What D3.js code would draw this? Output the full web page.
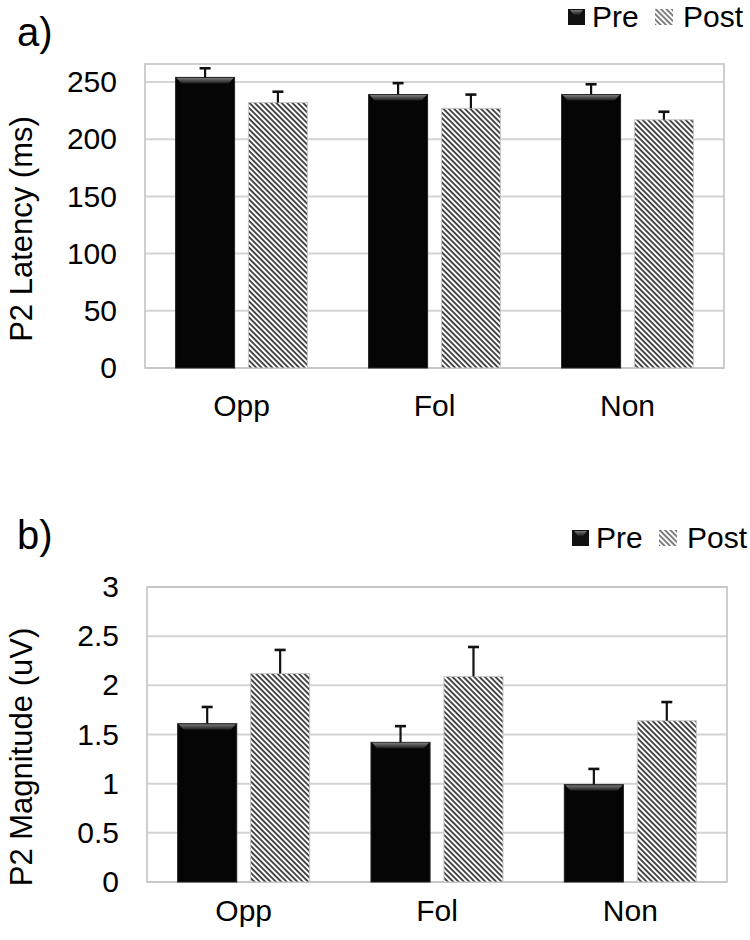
<!DOCTYPE html>
<html>
<head>
<meta charset="utf-8">
<script src="https://cdn.jsdelivr.net/npm/d3@7"></script>
<style>
  html, body { margin: 0; padding: 0; background: #fff; }
  svg { display: block; font-family: "Liberation Sans", Arial, Helvetica, sans-serif; }
</style>
</head>
<body>
<svg id="chart" width="750" height="940"></svg>
<script>
// ---- Data ----
const categories = ["Opp", "Fol", "Non"];
const series = ["Pre", "Post"];

const latencyPre = [254, 239, 239];
const latencyPost = [232, 227, 217];
const latencyPreErr = [8, 10, 9];
const latencyPostErr = [9.5, 12, 7];
const latencyTicks = [0, 50, 100, 150, 200, 250];

const magnitudePre = [1.61, 1.42, 0.99];
const magnitudePost = [2.12, 2.09, 1.64];
const magnitudePreErr = [0.17, 0.165, 0.16];
const magnitudePostErr = [0.24, 0.30, 0.19];
const magnitudeTicks = [0, 0.5, 1, 1.5, 2, 2.5, 3];

const svg = d3.select("#chart");
const defs = svg.append("defs");

// hatch pattern for Post
const pat = defs.append("pattern")
  .attr("id", "hatch")
  .attr("patternUnits", "userSpaceOnUse")
  .attr("width", 3.8).attr("height", 3.8)
  .attr("patternTransform", "rotate(-45)");
pat.append("rect").attr("width", 3.8).attr("height", 3.8).attr("fill", "#fff");
pat.append("line").attr("x1", 1).attr("y1", 0).attr("x2", 1).attr("y2", 3.8)
  .attr("stroke", "#222").attr("stroke-width", 1.6);

// bevel gradient for Pre top
const grad = defs.append("linearGradient").attr("id", "bevel")
  .attr("x1", 0).attr("y1", 0).attr("x2", 0).attr("y2", 1);
grad.append("stop").attr("offset", "0%").attr("stop-color", "#7a7a7a");
grad.append("stop").attr("offset", "100%").attr("stop-color", "#1a1a1a");

const fillFor = s => s === "Pre" ? "#050505" : "url(#hatch)";

function panel(opts) {
  const { left, right, yTop, yBottom, yMax, ticks, pre, post, preErr, postErr,
          title, titleY, letter, letterY, legendY, legendX, tickFmt, catY } = opts;

  const g = svg.append("g");
  const y = d3.scaleLinear().domain([0, yMax]).range([yBottom, yTop]);
  const x0 = d3.scaleBand().domain(categories).range([left, right]).padding(0);
  const x1 = d3.scaleBand().domain(series).range([0, x0.bandwidth()])
    .paddingInner(0.19).paddingOuter(0.42);

  // gridlines
  g.append("g").selectAll("line").data(ticks).join("line")
    .attr("x1", left).attr("x2", right)
    .attr("y1", d => y(d)).attr("y2", d => y(d))
    .attr("stroke", "#d4d4d4").attr("stroke-width", 2);

  // frame
  g.append("rect")
    .attr("x", left).attr("y", yTop)
    .attr("width", right - left).attr("height", yBottom - yTop)
    .attr("fill", "none").attr("stroke", "#c4c4c4").attr("stroke-width", 1.6);

  // y axis labels
  const yAxis = d3.axisLeft(y).tickValues(ticks).tickSize(0).tickPadding(28)
    .tickFormat(tickFmt);
  const ax = g.append("g").attr("transform", `translate(${left},0)`).call(yAxis);
  ax.select(".domain").remove();
  ax.selectAll("text").attr("font-size", 30).attr("fill", "#000")
    .attr("font-family", "'Liberation Sans', Arial, sans-serif");

  // x axis labels
  const xAxis = d3.axisBottom(x0).tickSize(0).tickPadding(0);
  const bx = g.append("g").attr("transform", `translate(0,${catY})`).call(xAxis);
  bx.select(".domain").remove();
  bx.selectAll("text").attr("font-size", 30).attr("fill", "#000").attr("dy", 0)
    .attr("font-family", "'Liberation Sans', Arial, sans-serif");

  const data = [];
  categories.forEach((c, i) => {
    data.push({ cat: c, s: "Pre", v: pre[i], e: preErr[i] });
    data.push({ cat: c, s: "Post", v: post[i], e: postErr[i] });
  });

  const bars = g.append("g").selectAll("g").data(data).join("g");
  bars.append("rect")
    .attr("x", d => x0(d.cat) + x1(d.s))
    .attr("y", d => y(d.v))
    .attr("width", x1.bandwidth())
    .attr("height", d => y(0) - y(d.v))
    .attr("fill", d => fillFor(d.s))
    .attr("stroke", d => d.s === "Pre" ? "#222" : "#c8c8c8")
    .attr("stroke-width", 1);

  // bevel on Pre bars
  bars.filter(d => d.s === "Pre").append("polygon")
    .attr("points", d => {
      const xa = x0(d.cat) + x1(d.s), w = x1.bandwidth(), yt = y(d.v);
      return [[xa + 1, yt + 0.5], [xa + w - 1, yt + 0.5], [xa + w - 6, yt + 6], [xa + 6, yt + 6]]
        .map(p => p.join(",")).join(" ");
    })
    .attr("fill", "url(#bevel)");

  // error bars (upper only)
  bars.append("line")
    .attr("x1", d => x0(d.cat) + x1(d.s) + x1.bandwidth() / 2)
    .attr("x2", d => x0(d.cat) + x1(d.s) + x1.bandwidth() / 2)
    .attr("y1", d => y(d.v))
    .attr("y2", d => y(d.v + d.e))
    .attr("stroke", "#111").attr("stroke-width", 2.2);
  bars.append("line")
    .attr("x1", d => x0(d.cat) + x1(d.s) + x1.bandwidth() / 2 - 5.5)
    .attr("x2", d => x0(d.cat) + x1(d.s) + x1.bandwidth() / 2 + 5.5)
    .attr("y1", d => y(d.v + d.e))
    .attr("y2", d => y(d.v + d.e))
    .attr("stroke", "#111").attr("stroke-width", 2.6);

  // y title
  g.append("text")
    .attr("transform", `translate(32,${titleY}) rotate(-90)`)
    .attr("text-anchor", "middle")
    .attr("font-size", 31).attr("fill", "#000")
    .text(title);

  // panel letter
  g.append("text").attr("x", 17).attr("y", letterY)
    .attr("font-size", 40).attr("fill", "#000").text(letter);

  // legend
  const lg = g.append("g").attr("transform", `translate(${legendX},${legendY})`);
  lg.append("rect").attr("x", 0).attr("y", -16).attr("width", 17).attr("height", 16)
    .attr("fill", "#111");
  lg.append("polygon").attr("points", "2,-15 15,-15 11,-10 6,-10").attr("fill", "url(#bevel)");
  lg.append("text").attr("x", 24).attr("y", 2).attr("font-size", 30).attr("fill", "#000").text("Pre");
  lg.append("rect").attr("x", 87).attr("y", -16).attr("width", 18).attr("height", 16)
    .attr("fill", "url(#hatch)").attr("opacity", 0.7);
  lg.append("text").attr("x", 115).attr("y", 2).attr("font-size", 30).attr("fill", "#000").text("Post");
}

panel({
  left: 145, right: 724, yTop: 64, yBottom: 368,
  yMax: 250 * (368 - 64) / (368 - 82),
  ticks: latencyTicks, pre: latencyPre, post: latencyPost,
  preErr: latencyPreErr, postErr: latencyPostErr,
  title: "P2 Latency (ms)", titleY: 229, letter: "a)", letterY: 46,
  legendX: 568, legendY: 25, tickFmt: d3.format("d"), catY: 416
});

panel({
  left: 147, right: 727, yTop: 587, yBottom: 882,
  yMax: 3,
  ticks: magnitudeTicks, pre: magnitudePre, post: magnitudePost,
  preErr: magnitudePreErr, postErr: magnitudePostErr,
  title: "P2 Magnitude (uV)", titleY: 757, letter: "b)", letterY: 549,
  legendX: 572, legendY: 546, tickFmt: d => String(d), catY: 921
});
</script>
</body>
</html>
